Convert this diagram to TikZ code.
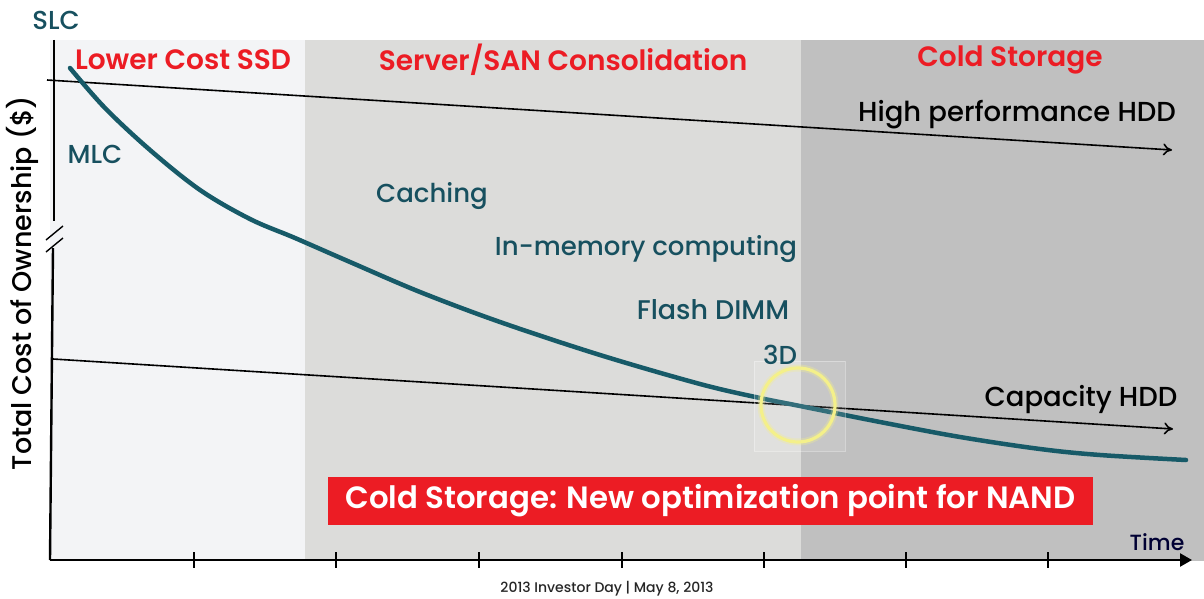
\documentclass[tikz,border=0pt]{standalone}
\usepackage{fontspec}
\setmainfont{Poppins}[UprightFont={* Medium}, BoldFont={* SemiBold}]
\usetikzlibrary{arrows.meta}
\definecolor{paneA}{HTML}{F3F4F6}
\definecolor{paneB}{HTML}{DCDCDA}
\definecolor{paneC}{HTML}{C0C0C0}
\definecolor{teal}{HTML}{175A68}
\definecolor{tealtext}{HTML}{17505F}
\definecolor{hot}{HTML}{EC1C24}
\definecolor{halo}{HTML}{F4F08A}
\tikzset{
  phase/.style={text=hot, font=\fontsize{28}{32}\selectfont\bfseries},
  tech/.style={text=tealtext, font=\fontsize{26}{30}\selectfont},
  hdd/.style={text=black, font=\fontsize{27.5}{31}\selectfont},
  trend/.style={line width=1.6pt, -{To[length=9pt,width=12pt]}},
  axisline/.style={line width=2.4pt},
  tick/.style={line width=2pt},
}
\begin{document}
\begin{tikzpicture}[x=1pt,y=-1pt]
\useasboundingbox (0,0) rectangle (1204,599);
% shaded phases
\fill[paneA] (50,40) rectangle (305,560);
\fill[paneB] (305,40) rectangle (801,560);
\fill[paneC] (801,40) rectangle (1204,561);

% axes
\coordinate (ytop) at (54,40);
\coordinate (ybrk1) at (54,221);
\coordinate (ybrk2) at (53,248);
\coordinate (origin) at (50,560);
\coordinate (xend) at (1192,560);
\draw[axisline] (ytop) -- (ybrk1);
\draw[axisline] (ybrk2) -- (origin);
\draw[line width=1.4pt] (46,240) -- (63,226);
\draw[line width=1.4pt] (46,252) -- (63,238);
\draw[axisline, -{Triangle[length=12pt,width=13pt]}] (origin) -- (xend);
\foreach \t in {194,336,479,622,764,906,1048}
  \draw[tick] (\t,552) -- (\t,568);

% HDD trend lines
\coordinate (hpA) at (47,80);
\coordinate (hpB) at (1172,150);
\coordinate (capA) at (53,359);
\coordinate (capB) at (1173,429);
\draw[trend] (hpA) -- (hpB);
\draw[trend] (capA) -- (capB);

% NAND cost curve
\draw[teal, line width=4.5pt, line cap=round] plot[smooth, tension=0.55] coordinates {
  (70,68) (105,108) (150,150) (200,190) (250,219) (295,238)
  (350,262) (420,292) (500,322) (600,355) (700,384) (760,398)
  (800,406) (880,422) (960,437) (1040,449) (1100,455) (1186,460)};

% crossover highlight
\fill[white, opacity=0.12] (754,361) rectangle (845,451);
\draw[white, opacity=0.35, line width=0.6pt] (754,361) rectangle (845,451);
\draw[halo, line width=7pt, opacity=0.3] (798,405) circle (37);
\node[circle, draw=halo, line width=3.2pt, minimum size=74pt, inner sep=0pt] (xover) at (798,405) {};

% labels
\node[tech, anchor=base] (slc) at (56,30) {SLC};
\node[phase] (ph1) at (183,60) {Lower Cost SSD};
\node[phase] (ph2) at (563,60) {Server/SAN Consolidation};
\node[phase] (ph3) at (1010,60) {Cold Storage};
\node[hdd] (hp) at (1017,115) {High performance HDD};
\node[hdd] (cap) at (1081,400) {Capacity HDD};
\node[tech] (mlc) at (95,154) {MLC};
\node[tech] (cach) at (432,196) {Caching};
\node[tech] (imc) at (646,249) {In-memory computing};
\node[tech, font=\fontsize{27}{31}\selectfont] (dimm) at (713,310) {Flash DIMM};
\node[tech] (threed) at (780,355) {3D};
\node[fill=hot, text=white, minimum width=765pt, minimum height=48pt, inner sep=0pt,
      font=\fontsize{30.8}{35}\selectfont\bfseries] (msg) at (710.5,501) {Cold Storage: New optimization point for NAND};
\node[text=black!80!blue, font=\fontsize{22}{26}\selectfont] (time) at (1157,542) {Time};
\node[rotate=90, font=\fontsize{27}{31}\selectfont] (ylab) at (22,283) {Total Cost of Ownership (\$)};
\node[font=\fontsize{14}{16}\selectfont, text=black!85] (foot) at (607,589) {2013 Investor Day | May 8, 2013};
\end{tikzpicture}
\end{document}
